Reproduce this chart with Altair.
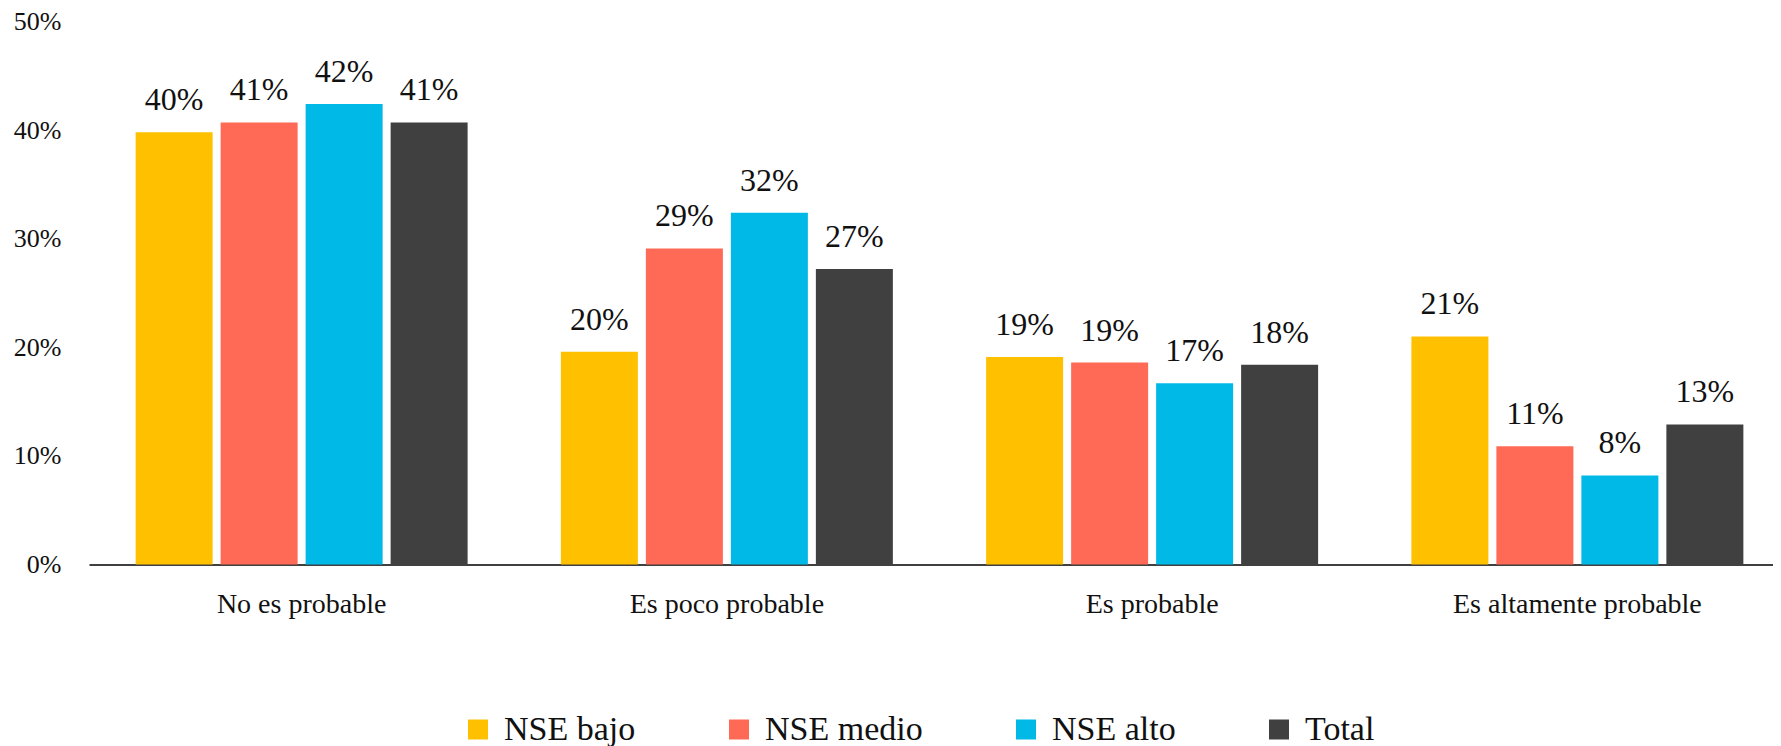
import altair as alt
import pandas as pd

categories = ["No es probable", "Es poco probable", "Es probable", "Es altamente probable"]
series = ["NSE bajo", "NSE medio", "NSE alto", "Total"]
nse_bajo = [39.8, 19.6, 19.1, 21.0]
nse_medio = [40.7, 29.1, 18.6, 10.9]
nse_alto = [42.4, 32.4, 16.7, 8.2]
total = [40.7, 27.2, 18.4, 12.9]
colors = ["#FFC000", "#FF6A56", "#00B9E7", "#404040"]
y_ticks = [0, 10, 20, 30, 40, 50]

rows = []
for s, vals in zip(series, [nse_bajo, nse_medio, nse_alto, total]):
    for c, v in zip(categories, vals):
        rows.append({"cat": c, "serie": s, "valor": v, "etiqueta": f"{round(v)}%"})
df = pd.DataFrame(rows)

FONT = "Liberation Serif"
TXT = "#111111"

x = alt.X(
    "cat:N",
    sort=categories,
    scale=alt.Scale(range=[0, 1701], paddingInner=0, paddingOuter=0),
    axis=alt.Axis(
        title=None, labelAngle=0, ticks=False, tickSize=0, grid=False,
        domainColor="#404040", domainWidth=2,
        labelFont=FONT, labelFontSize=28, labelColor=TXT, labelLimit=0,
        labelPadding=48, labelBaseline="alphabetic",
    ),
)
xoff = alt.XOffset(
    "serie:N", sort=series,
    scale=alt.Scale(paddingInner=0.0941, paddingOuter=0.5486),
)
y = alt.Y(
    "valor:Q",
    scale=alt.Scale(domain=[0, 50], nice=False),
    axis=alt.Axis(
        title=None, values=y_ticks, labelExpr="datum.value + '%'",
        domain=False, ticks=False, grid=False,
        labelFont=FONT, labelFontSize=26, labelColor=TXT,
        labelPadding=28, minExtent=81, maxExtent=81,
    ),
)
color = alt.Color(
    "serie:N", sort=series,
    scale=alt.Scale(domain=series, range=colors),
    legend=alt.Legend(
        title=None, orient="none", legendX=372, legendY=691,
        direction="horizontal", symbolType="square", symbolSize=400,
        symbolStrokeWidth=0, labelFont=FONT, labelFontSize=34,
        labelColor=TXT, labelOffset=9, columnPadding=86, padding=0,
        labelLimit=0,
    ),
)

base = alt.Chart(df).encode(x=x, xOffset=xoff, y=y)
bars = base.mark_bar().encode(color=color)
labels = base.mark_text(
    baseline="alphabetic", dy=-22, fontSize=32, font=FONT, color=TXT
).encode(text="etiqueta:N")

chart = (
    alt.layer(bars, labels)
    .properties(
        width=1684, height=543,
        autosize=alt.AutoSizeParams(type="none"),
        padding={"left": 81, "top": 13.5, "right": 0, "bottom": 190},
    )
    .configure_view(stroke=None)
)

chart.save("out.html", embed_options={"renderer": "svg", "actions": False})
